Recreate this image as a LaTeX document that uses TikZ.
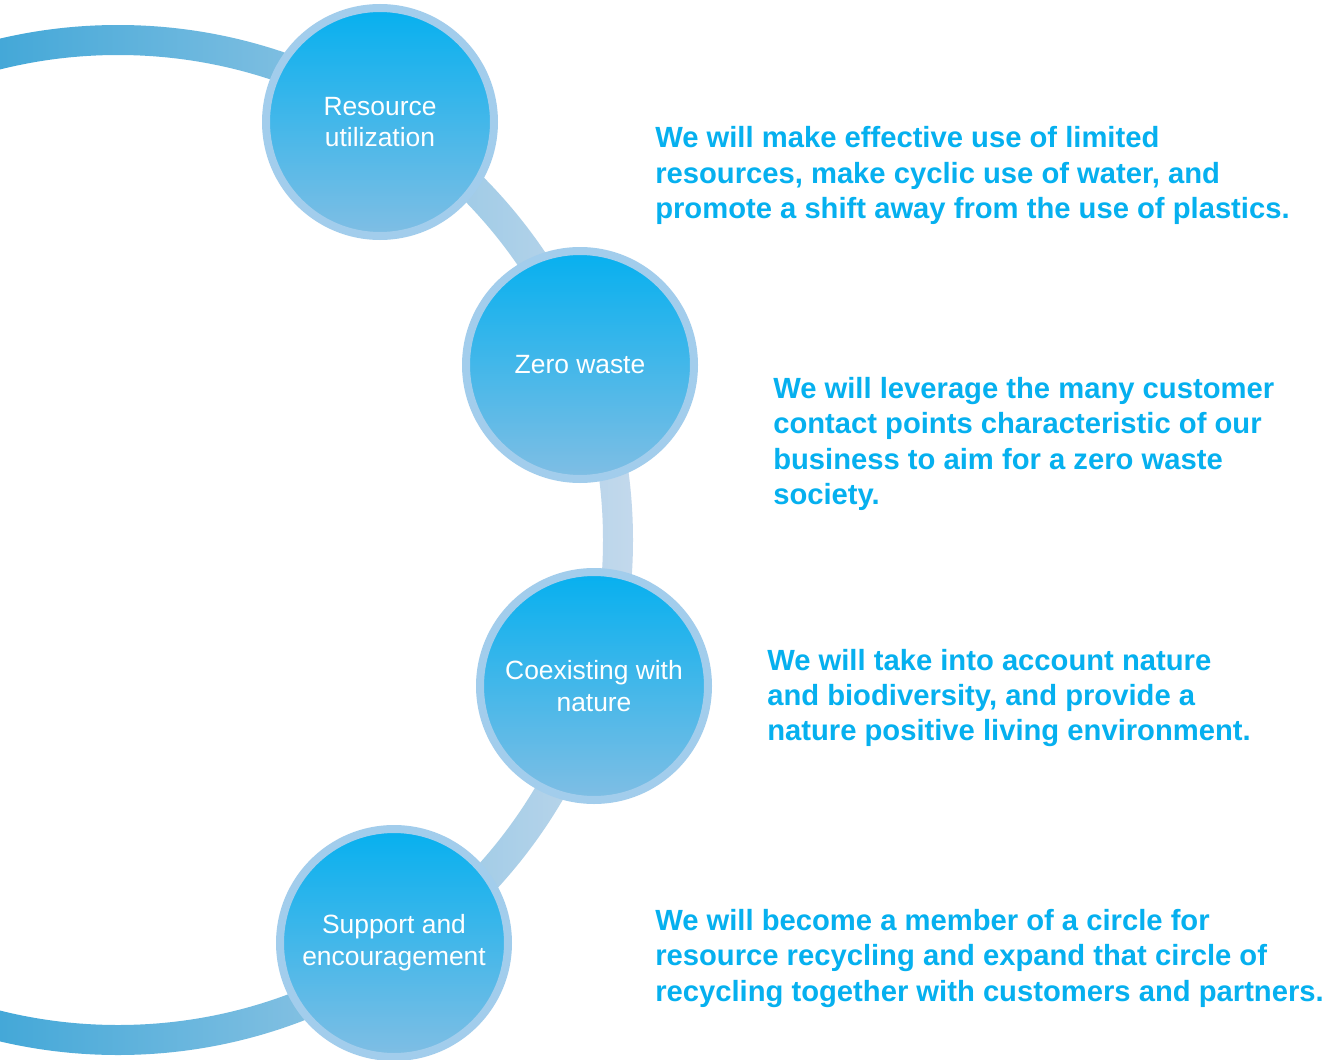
\documentclass[tikz,border=0pt]{standalone}
\usepackage{fontspec}
\setmainfont{Liberation Sans}
\begin{document}
\begin{tikzpicture}[x=0.75pt,y=-0.75pt]
\definecolor{arcL}{HTML}{44A8D8}
\definecolor{arcR}{HTML}{C4D9EC}
\definecolor{balltop}{HTML}{06B0EF}
\definecolor{ballbot}{HTML}{80BEE4}
\definecolor{ballrim}{HTML}{A2CDEC}
\definecolor{desc}{HTML}{06B0EF}
\tikzset{
  ball/.style={circle, minimum size=171pt, inner sep=0pt, line width=6pt,
    draw=ballrim, top color=balltop, bottom color=ballbot, text=white,
    align=center, font=\fontsize{19.8}{23.8}\selectfont},
  desctext/.style={anchor=west, align=left, inner sep=0pt, text=desc,
    font=\bfseries\fontsize{21.9}{26.6}\selectfont}
}
\useasboundingbox (0,0) rectangle (1329,1060);
\fill[white] (0,0) rectangle (1329,1060);
% big ring
\begin{scope}[even odd rule]
  \clip (118,540) circle (515) (118,540) circle (485);
  \shade[left color=arcL, right color=arcR] (0,0) rectangle (640,1060);
\end{scope}
% balls
\node[ball] (res) at (380,122) {Resource\\utilization};
\node[ball] (zero) at (580,365) {Zero waste};
\node[ball] (coex) at (594,686) {Coexisting with\\nature};
\node[ball] (sup) at (394,943) {Support and\\encouragement};
% descriptions
\node[desctext] (d1) at (655,175.5) {We will make effective use of limited\\resources, make cyclic use of water, and\\promote a shift away from the use of plastics.};
\node[desctext] (d2) at (773,444) {We will leverage the many customer\\contact points characteristic of our\\business to aim for a zero waste\\society.};
\node[desctext] (d3) at (767,698) {We will take into account nature\\and biodiversity, and provide a\\nature positive living environment.};
\node[desctext] (d4) at (655,958.5) {We will become a member of a circle for\\resource recycling and expand that circle of\\recycling together with customers and partners.};
\end{tikzpicture}
\end{document}
